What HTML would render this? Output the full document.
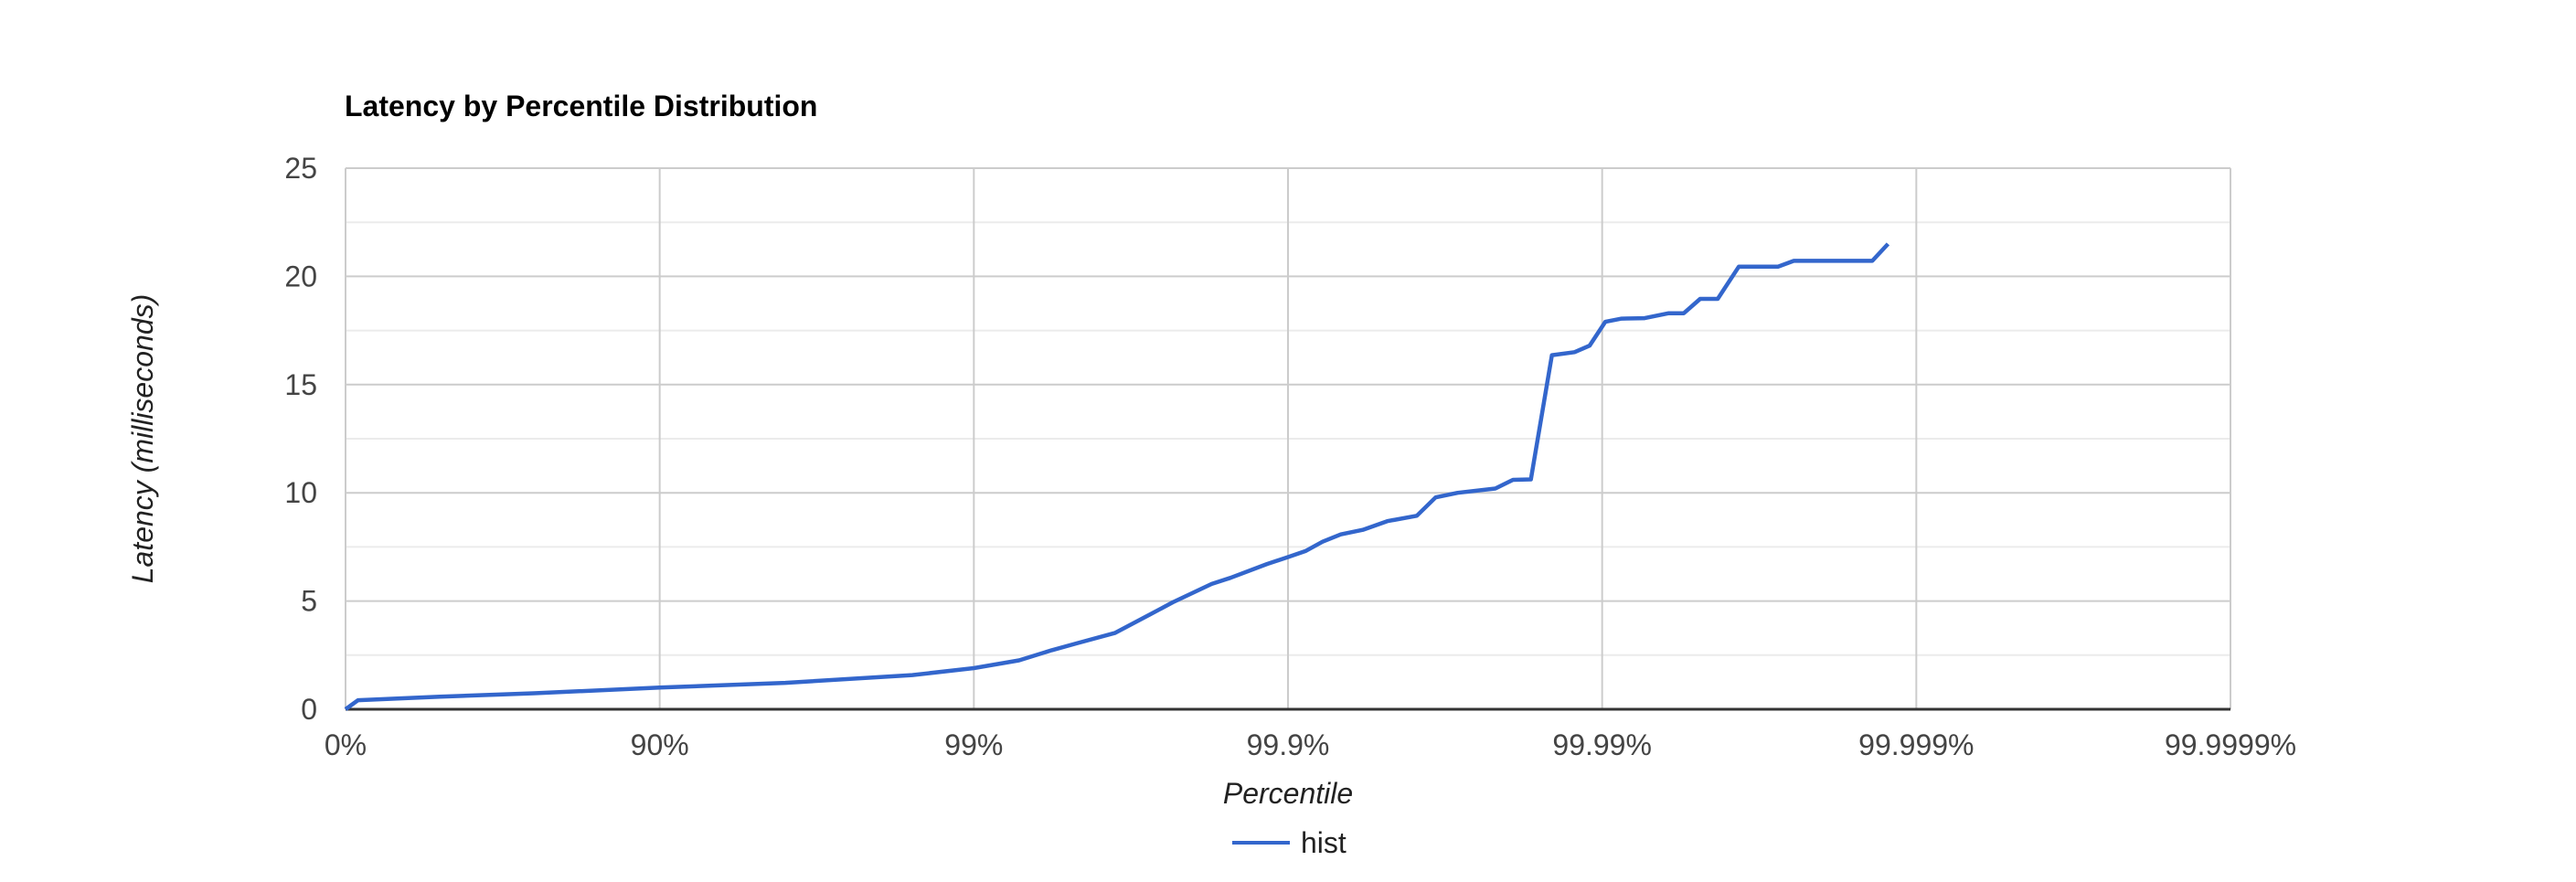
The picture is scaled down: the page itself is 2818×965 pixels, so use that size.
<!DOCTYPE html>
<html><head><meta charset="utf-8"><style>
html,body{margin:0;padding:0;background:#fff;}
svg text{font-family:"Liberation Sans",Arial,sans-serif;}
</style></head><body>
<svg id="chart" width="2818" height="960" viewBox="0 0 2818 960" xmlns="http://www.w3.org/2000/svg">
<rect width="2818" height="960" fill="#fff"/>
<text x="377" y="127" font-size="32" font-weight="bold" fill="#000">Latency by Percentile Distribution</text>
<g id="grid"></g>
<g id="ylabels"></g>
<g id="xlabels"></g>
<path id="line" fill="none" stroke="#3366cc" stroke-width="4.5" stroke-linejoin="round"/>
<text x="0" y="0" transform="translate(167,480) rotate(-90)" text-anchor="middle" font-size="32" font-style="italic" fill="#222">Latency (milliseconds)</text>
<text x="1409" y="879" text-anchor="middle" font-size="32" font-style="italic" fill="#222">Percentile</text>
<g>
<line x1="1348" y1="922" x2="1411" y2="922" stroke="#3366cc" stroke-width="4"/>
<text x="1423" y="933" font-size="32" fill="#222">hist</text>
</g>
</svg>
<script>
// x values: decades of 1/(1-p) (0 = 0%, 1 = 90%, 2 = 99%, ...)
const xDecades = [0,0.04,0.3,0.6,1.0,1.4,1.804,2.0,2.144,2.248,2.326,2.45,2.561,2.633,2.757,2.816,2.933,3.0,3.057,3.11,3.168,3.238,3.316,3.41,3.47,3.54,3.66,3.716,3.773,3.84,3.912,3.96,4.01,4.062,4.135,4.212,4.26,4.312,4.368,4.435,4.56,4.61,4.86,4.91];
const latency = [0,0.42,0.58,0.74,1.0,1.22,1.58,1.9,2.26,2.73,3.04,3.53,4.38,4.94,5.79,6.07,6.71,7.03,7.32,7.74,8.08,8.29,8.69,8.94,9.79,10.0,10.2,10.6,10.62,16.36,16.5,16.8,17.9,18.05,18.07,18.3,18.3,18.96,18.96,20.45,20.45,20.72,20.72,21.5];
const yTicks = [0,5,10,15,20,25];
const yMinor = [2.5,7.5,12.5,17.5,22.5];
const xTicks = [0,1,2,3,4,5,6];
const xTickLabels = ["0%","90%","99%","99.9%","99.99%","99.999%","99.9999%"];

const L=378,R=2440,T=184,B=776,XMAX=6,YMAX=25;
const sx=d=>L+d/XMAX*(R-L);
const sy=v=>B-v/YMAX*(B-T);
const NS="http://www.w3.org/2000/svg";
const grid=document.getElementById('grid'),yl=document.getElementById('ylabels'),xl=document.getElementById('xlabels');
function mk(tag,attrs,parent){const e=document.createElementNS(NS,tag);for(const k in attrs)e.setAttribute(k,attrs[k]);parent.appendChild(e);return e;}
yMinor.forEach(v=>{
 const e=mk('line',{x1:L,x2:R,y1:sy(v),y2:sy(v),stroke:'#ebebeb','stroke-width':2},grid);
 
 
});
yTicks.forEach(v=>{
 const e=mk('line',{x1:L,x2:R,y1:sy(v),y2:sy(v),stroke:v===0?'#333':'#ccc','stroke-width':v===0?3:2},grid);
 
 
 const t=mk('text',{x:347,y:sy(v)+11,'text-anchor':'end','font-size':32,fill:'#444'},yl);
 t.textContent=v;
 
 
});
xTicks.forEach((d,i)=>{
 const e=mk('line',{x1:sx(d),x2:sx(d),y1:T,y2:B,stroke:'#ccc','stroke-width':2},grid);
 
 
 const t=mk('text',{x:sx(d),y:826,'text-anchor':'middle','font-size':32,fill:'#444'},xl);
 t.textContent=xTickLabels[i];
 
 
});
const base=mk('line',{x1:L,x2:R,y1:B,y2:B,stroke:'#333','stroke-width':3},grid);


document.getElementById('line').setAttribute('d',xDecades.map((d,i)=>(i?'L':'M')+sx(d).toFixed(1)+' '+sy(latency[i]).toFixed(1)).join(' '));
</script>
</body></html>
